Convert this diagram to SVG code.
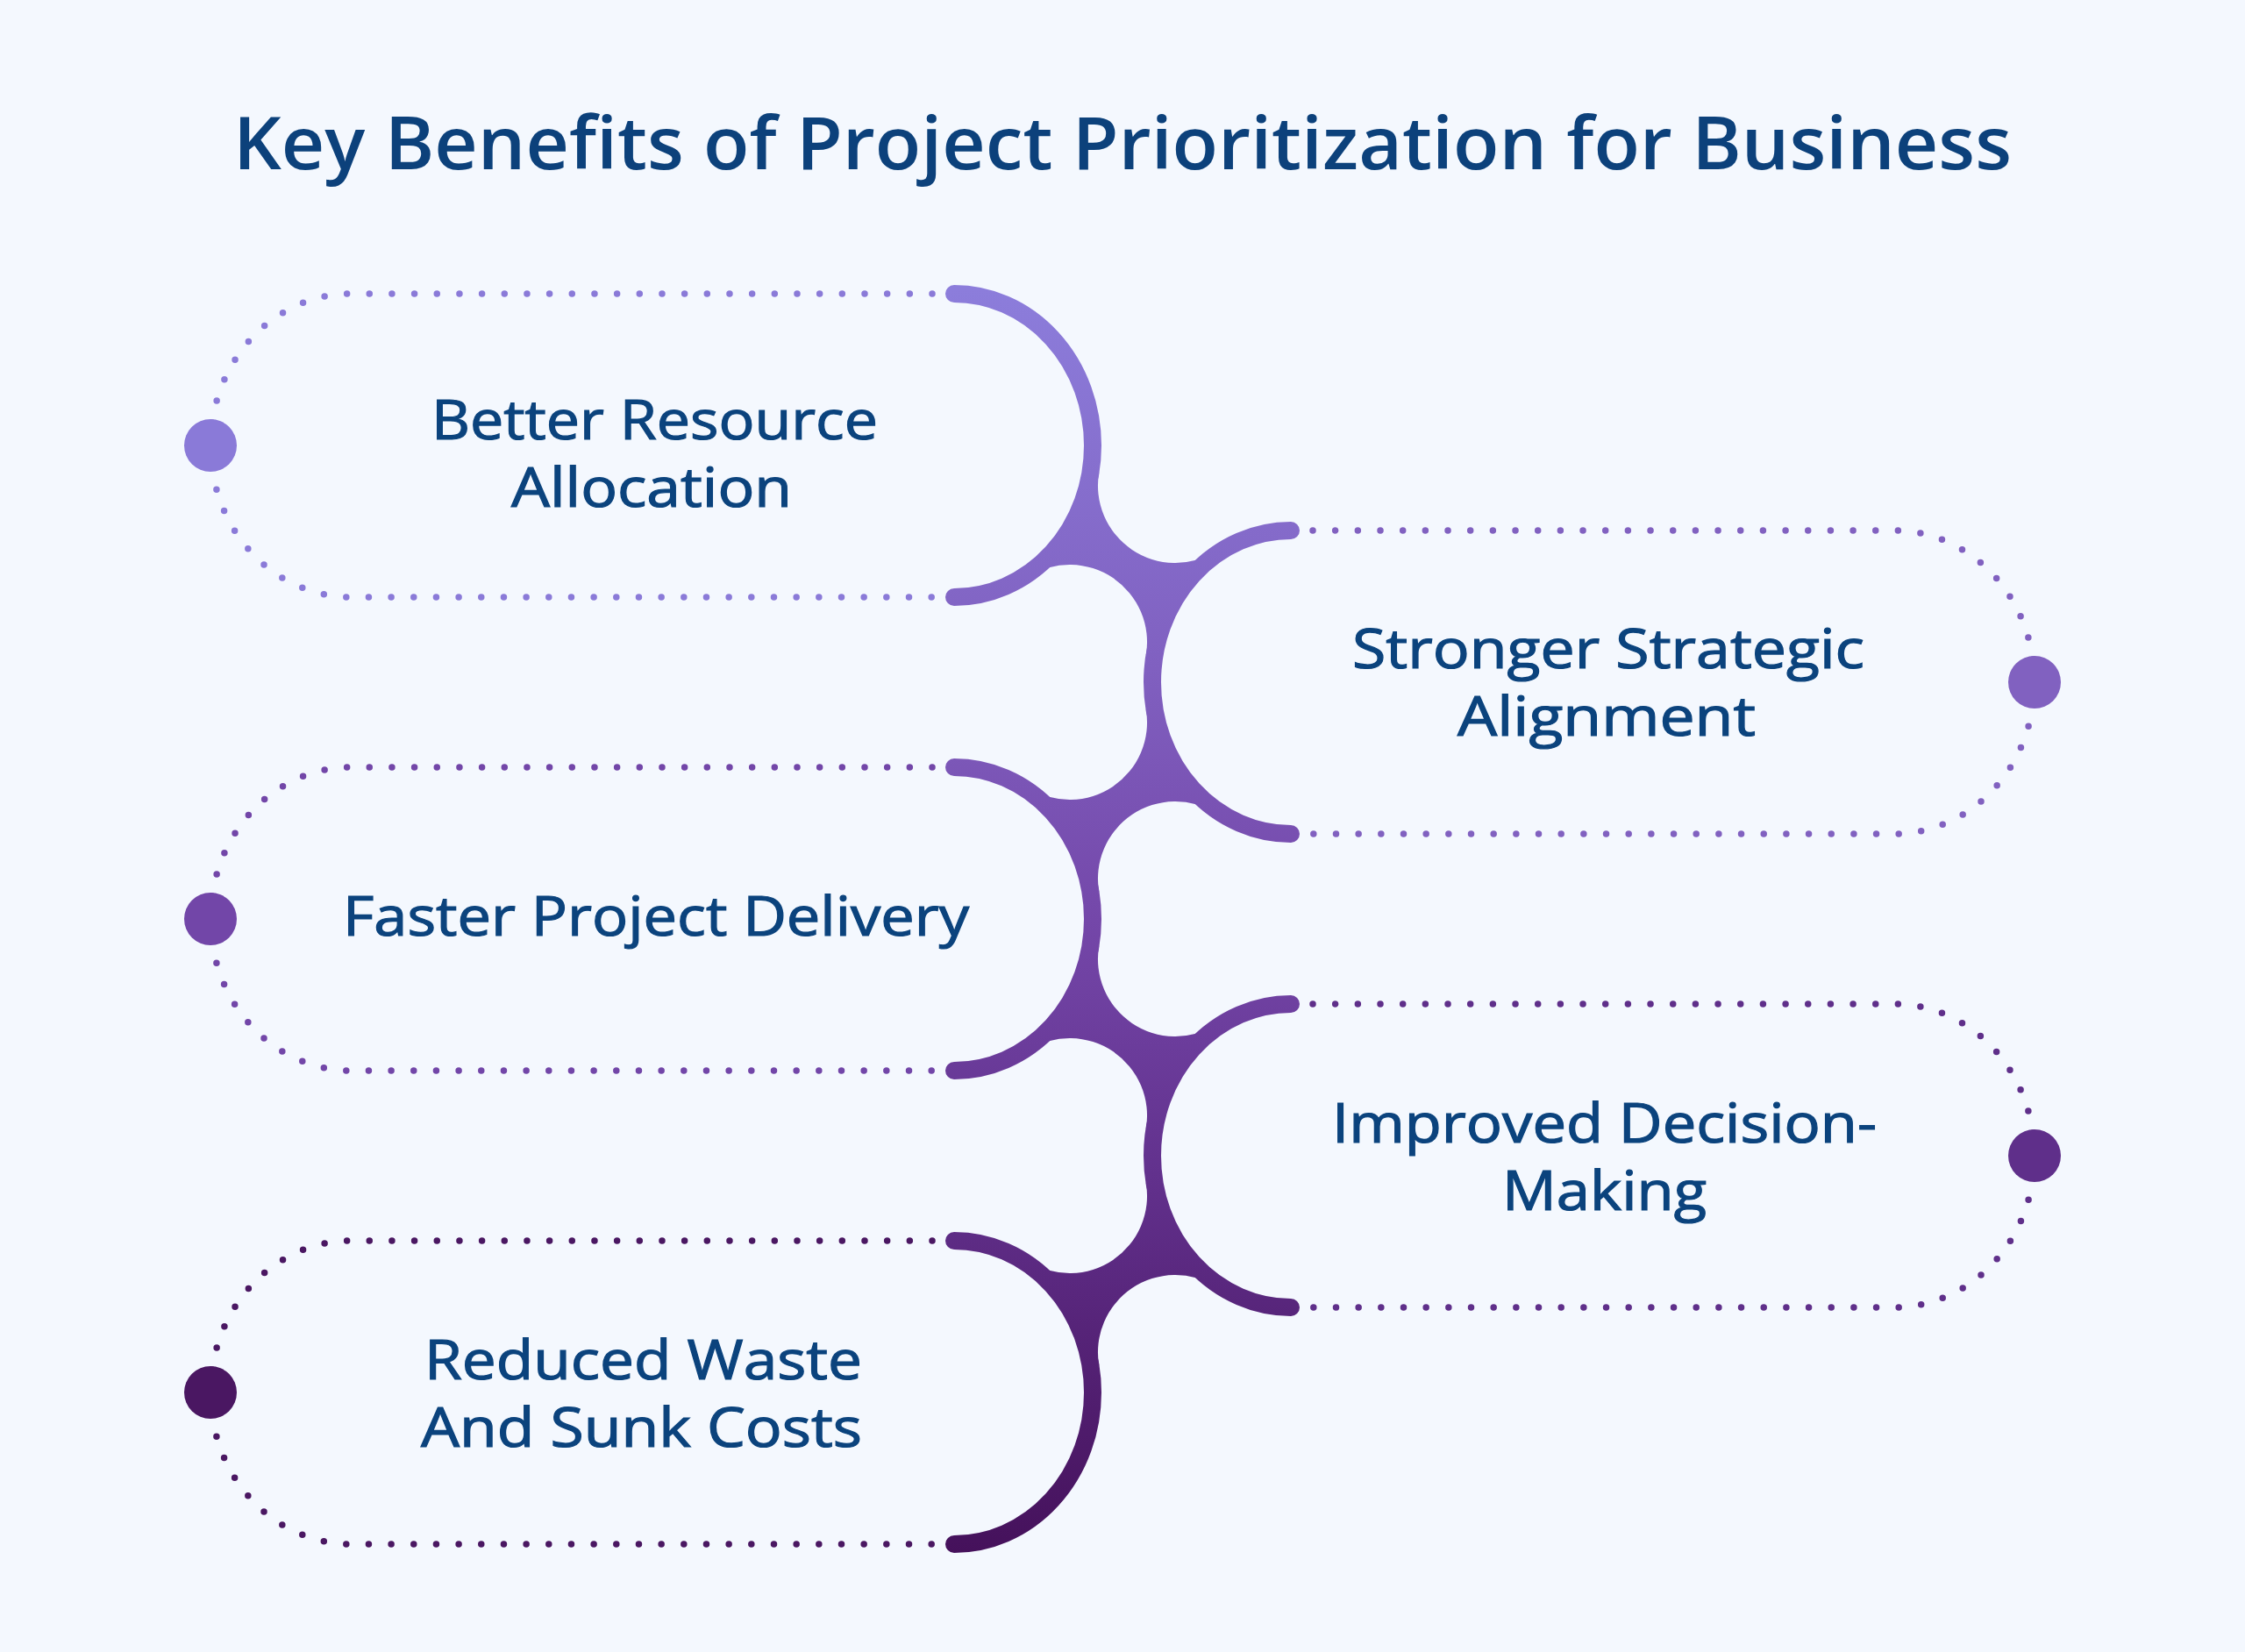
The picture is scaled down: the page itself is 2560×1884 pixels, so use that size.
<svg xmlns="http://www.w3.org/2000/svg" width="2560" height="1884" viewBox="0 0 2560 1884">
<defs>
<linearGradient id="spine" gradientUnits="userSpaceOnUse" x1="0" y1="330" x2="0" y2="1770">
<stop offset="0" stop-color="#8C7DDB"/>
<stop offset="0.3" stop-color="#8060C0"/>
<stop offset="0.5" stop-color="#7447A9"/>
<stop offset="0.7" stop-color="#62318D"/>
<stop offset="1" stop-color="#45115B"/>
</linearGradient>
</defs>
<style>
.title { font-family: "Open Sans", "Liberation Sans", sans-serif; font-size: 84px; font-weight: 600; fill: #0C417B; }
.t { font-family: "Open Sans", "Liberation Sans", sans-serif; font-size: 62px; font-weight: 500; fill: #0B437D; stroke: #0B437D; stroke-width: 1.2; }
.dots { fill: none; stroke-width: 7.5; stroke-linecap: round; stroke-dasharray: 0 25.67; }
.arc { fill: none; stroke: url(#spine); stroke-width: 20; stroke-linecap: round; }
.junction { fill: url(#spine); }
</style>
<rect x="0" y="0" width="2560" height="1884" fill="#F4F8FE"/>
<text class="title" x="266" y="193" textLength="2028" lengthAdjust="spacingAndGlyphs">Key Benefits of Project Prioritization for Business</text>

<g id="connectors">
<path class="junction" d="M 1253.3 538.4 A 88.3 88.3 0 0 0 1387 628.6 L 1306.7 747.6 A 88.3 88.3 0 0 0 1173 657.4 Z"/>
<path class="junction" d="M 1306.7 808.4 A 88.3 88.3 0 0 1 1173 898.6 L 1253.3 1017.6 A 88.3 88.3 0 0 1 1387 927.4 Z"/>
<path class="junction" d="M 1253.3 1078.4 A 88.3 88.3 0 0 0 1387 1168.6 L 1306.7 1287.6 A 88.3 88.3 0 0 0 1173 1197.4 Z"/>
<path class="junction" d="M 1306.7 1348.4 A 88.3 88.3 0 0 1 1173 1438.6 L 1253.3 1557.6 A 88.3 88.3 0 0 1 1387 1467.4 Z"/>
<path class="arc" d="M 1088 335 A 158 173 0 0 1 1088 681"/>
<path class="arc" d="M 1472 605 A 158 173 0 0 0 1472 951"/>
<path class="arc" d="M 1088 875 A 158 173 0 0 1 1088 1221"/>
<path class="arc" d="M 1472 1145 A 158 173 0 0 0 1472 1491"/>
<path class="arc" d="M 1088 1415 A 158 173 0 0 1 1088 1761"/>
</g>

<g id="node-1">
<path class="dots" stroke="#8A7AD8" d="M 1063 335 L 400 335 A 160 173 0 0 0 240 508 A 160 173 0 0 0 400 681 L 1063 681"/>
<circle cx="240" cy="508" r="30" fill="#8A7AD8"/>
<text class="t" x="492" y="501" textLength="509" lengthAdjust="spacingAndGlyphs">Better Resource</text>
<text class="t" x="583" y="578" textLength="320" lengthAdjust="spacingAndGlyphs">Allocation</text>
</g>

<g id="node-2">
<path class="dots" stroke="#8161C0" d="M 1497 605 L 2160 605 A 160 173 0 0 1 2320 778 A 160 173 0 0 1 2160 951 L 1497 951"/>
<circle cx="2320" cy="778" r="30" fill="#8161C0"/>
<text class="t" x="1542" y="762" textLength="584" lengthAdjust="spacingAndGlyphs">Stronger Strategic</text>
<text class="t" x="1662" y="839" textLength="340" lengthAdjust="spacingAndGlyphs">Alignment</text>
</g>

<g id="node-3">
<path class="dots" stroke="#7246A8" d="M 1063 875 L 400 875 A 160 173 0 0 0 240 1048 A 160 173 0 0 0 400 1221 L 1063 1221"/>
<circle cx="240" cy="1048" r="30" fill="#7246A8"/>
<text class="t" x="391" y="1067" textLength="714" lengthAdjust="spacingAndGlyphs">Faster Project Delivery</text>
</g>

<g id="node-4">
<path class="dots" stroke="#5F2F8A" d="M 1497 1145 L 2160 1145 A 160 173 0 0 1 2320 1318 A 160 173 0 0 1 2160 1491 L 1497 1491"/>
<circle cx="2320" cy="1318" r="30" fill="#5F2F8A"/>
<text class="t" x="1519" y="1303" textLength="621" lengthAdjust="spacingAndGlyphs">Improved Decision-</text>
<text class="t" x="1713" y="1380" textLength="233" lengthAdjust="spacingAndGlyphs">Making</text>
</g>

<g id="node-5">
<path class="dots" stroke="#4A1762" d="M 1063 1415 L 400 1415 A 160 173 0 0 0 240 1588 A 160 173 0 0 0 400 1761 L 1063 1761"/>
<circle cx="240" cy="1588" r="30" fill="#4A1762"/>
<text class="t" x="484" y="1573" textLength="499" lengthAdjust="spacingAndGlyphs">Reduced Waste</text>
<text class="t" x="480" y="1650" textLength="503" lengthAdjust="spacingAndGlyphs">And Sunk Costs</text>
</g>
</svg>
